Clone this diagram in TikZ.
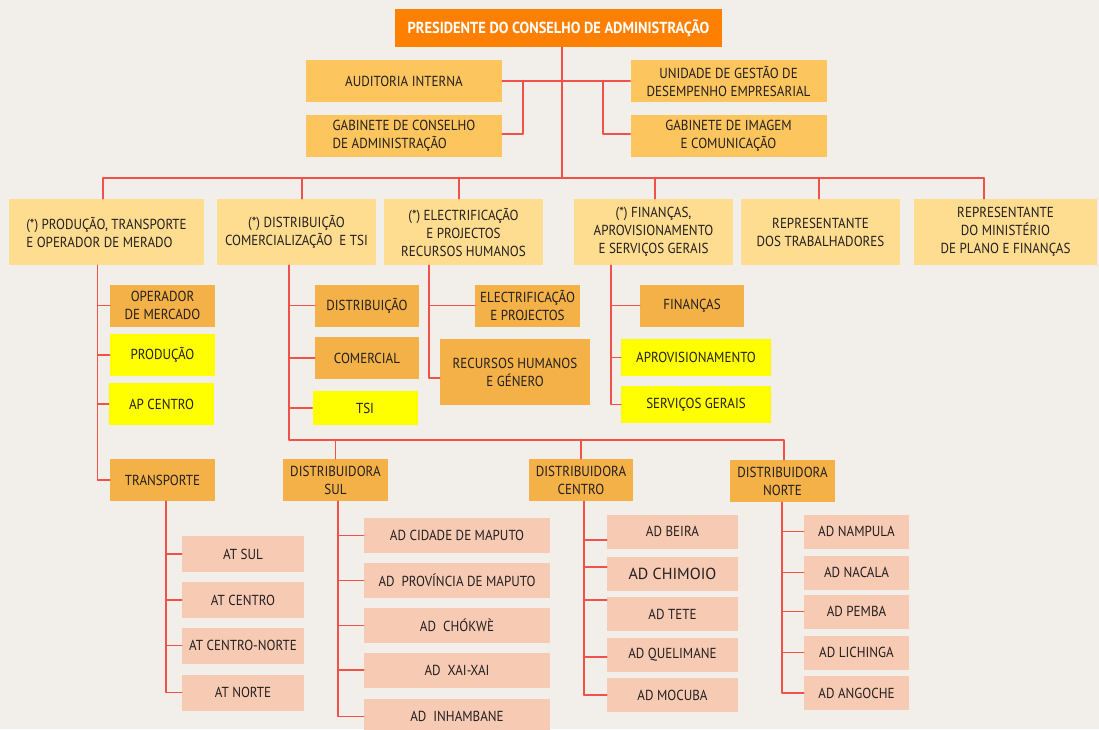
\documentclass[tikz,border=0pt]{standalone}
\usepackage{fontspec}
\setmainfont{PT Sans}[FakeStretch=0.9]
\newfontfamily\wideface{PT Sans}
\usetikzlibrary{calc}
\definecolor{paper}{HTML}{F2EFEA}
\definecolor{topc}{HTML}{FF7F00}
\definecolor{gold}{HTML}{FCC55E}
\definecolor{pale}{HTML}{FEDC90}
\definecolor{amber}{HTML}{F3B147}
\definecolor{lemon}{HTML}{FFFF00}
\definecolor{peach}{HTML}{F7CAB4}
\definecolor{wirec}{HTML}{F0524A}
\definecolor{ink}{HTML}{231F20}
\begin{document}
\begin{tikzpicture}[x=1pt,y=-1pt,line join=round,line cap=round,
 font=\fontsize{14.5}{18}\selectfont,
 every node/.style={text=ink,inner sep=2pt,align=center},
 chief/.style={fill=topc,text=white,font=\bfseries\fontsize{16}{18}\selectfont,minimum width=327,minimum height=38},
 staff/.style={fill=gold,minimum width=196,minimum height=42},
 dept/.style={fill=pale,minimum width=#1,minimum height=66},dept/.default=159,
 unit/.style={fill=amber,minimum width=#1,minimum height=42},unit/.default=105,
 hilite/.style={fill=lemon,minimum width=#1,minimum height=42},hilite/.default=105,
 agency/.style={fill=peach,minimum width=#1,minimum height=34},
 wire/.style={draw=wirec,line width=1.4pt}]
 \clip (0,0) rectangle (1099,729);
 \fill[paper] (0,0) rectangle (1099,729);
 % topo
 \node[chief] (pres) at (558.5,28) {PRESIDENTE DO CONSELHO DE ADMINISTRAÇÃO};
 \node[staff] (aud) at (404,81) {AUDITORIA INTERNA};
 \node[staff,align=left] (gab) at (404,136) {GABINETE DE CONSELHO\\DE ADMINISTRAÇÃO};
 \node[staff] (ugd) at (728.5,81) {UNIDADE DE GESTÃO DE\\DESEMPENHO EMPRESARIAL};
 \node[staff] (gim) at (728.5,136) {GABINETE DE IMAGEM\\E COMUNICAÇÃO};
 % pelouros
 \node[dept=195,align=left] (p1) at (106.5,232) {(*) PRODUÇÃO, TRANSPORTE\\E OPERADOR DE MERADO};
 \node[dept] (p2) at (296.5,232) {(*) DISTRIBUIÇÃO\\COMERCIALIZAÇÃO\ \ E TSI};
 \node[dept] (p3) at (463.5,232) {(*) ELECTRIFICAÇÃO\\E PROJECTOS\\RECURSOS HUMANOS};
 \node[dept] (p4) at (653.5,232) {(*) FINANÇAS,\\APROVISIONAMENTO\\E SERVIÇOS GERAIS};
 \node[dept] (p5) at (820.5,232) {REPRESENTANTE\\DOS TRABALHADORES};
 \node[dept=183] (p6) at (1005.5,232) {REPRESENTANTE\\DO MINISTÉRIO\\DE PLANO E FINANÇAS};
 % direccoes
 \node[unit] (om) at (162.5,305.5) {OPERADOR\\DE MERCADO};
 \node[hilite] (prod) at (162.5,355) {PRODUÇÃO};
 \node[hilite] (apc) at (161.5,404) {AP CENTRO};
 \node[unit] (trans) at (162.5,480) {TRANSPORTE};
 \node[unit=104] (dist) at (367,305.5) {DISTRIBUIÇÃO};
 \node[unit=104] (com) at (367,358) {COMERCIAL};
 \node[hilite,minimum height=34] (tsi) at (365,408) {TSI};
 \node[unit] (elp) at (527.5,305.5) {ELECTRIFICAÇÃO\\E PROJECTOS};
 \node[unit=150,minimum height=66] (rhg) at (515,372) {RECURSOS HUMANOS\\E GÉNERO};
 \node[unit=104] (fin) at (692,305.5) {FINANÇAS};
 \node[hilite=150,minimum height=37] (apr) at (696,357.5) {APROVISIONAMENTO};
 \node[hilite=150,minimum height=37] (sg) at (696,404.5) {SERVIÇOS GERAIS};
 \node[unit] (dsul) at (335.5,480) {DISTRIBUIDORA\\SUL};
 \node[unit=104] (dcen) at (581,480) {DISTRIBUIDORA\\CENTRO};
 \node[unit] (dnor) at (782.5,481) {DISTRIBUIDORA\\NORTE};
 % delegacoes
 \foreach \i/\y/\t in {1/554/AT SUL,2/600/AT CENTRO,3/645.5/AT CENTRO-NORTE,4/692.5/AT NORTE}
  \node[agency=122,minimum height=36] (at\i) at (243,\y) {\t};
 \foreach \i/\y/\t in {1/535.5/AD CIDADE DE MAPUTO,2/580.5/AD\ \ PROVÍNCIA DE MAPUTO,3/625.5/AD\ \ CHÓKWÈ,4/670/AD\ \ XAI-XAI,5/716.5/AD\ \ INHAMBANE}
  \node[agency=186,minimum height=35] (sul\i) at (457,\y) {\t};
 \foreach \i/\y/\t in {1/531.5/AD BEIRA,2/573.5/{\wideface\fontsize{16}{18}\selectfont AD CHIMOIO},3/614/AD TETE,4/654.5/AD QUELIMANE,5/695/AD MOCUBA}
  \node[agency=131] (cen\i) at (672.5,\y) {\t};
 \foreach \i/\y/\t in {1/531.5/AD NAMPULA,2/572.5/AD NACALA,3/611.5/AD PEMBA,4/652.5/AD LICHINGA,5/693/AD ANGOCHE}
  \node[agency=105] (nor\i) at (856.5,\y) {\t};
 % ligacoes
 \coordinate (hub) at (562,178);
 \draw[wire] (pres.south -| hub) -- (hub);
 \draw[wire] (aud.east) -- (aud.east -| hub) (hub |- ugd.west) -- (ugd.west);
 \coordinate (kl) at (523,134); \coordinate (kr) at (603,134);
 \draw[wire] (aud.east -| kl) -- (kl) -- (gab.east |- kl);
 \draw[wire] (ugd.west -| kr) -- (kr) -- (gim.west |- kr);
 \foreach \n/\x in {p1/103,p2/302,p3/459,p4/655,p5/819,p6/984}
  {\coordinate (d\n) at (\x,178); \draw[wire] (d\n) -- (d\n |- \n.north);}
 \draw[wire] (dp1) -- (dp6);
 \coordinate (c1) at ($(p1.south)+(-9,0)$);
 \draw[wire] (c1) -- (c1 |- trans.west);
 \foreach \m in {om,prod,apc,trans} \draw[wire] (c1 |- \m.west) -- (\m.west);
 \coordinate (c2) at ($(p2.south)+(-7.5,0)$);
 \coordinate (dr) at (784,440);
 \draw[wire] (c2) |- (dr) -- (dr |- dnor.north);
 \draw[wire] (dsul.north) -- (dsul.north |- dr) (dcen.north) -- (dcen.north |- dr);
 \foreach \m in {dist,com,tsi} \draw[wire] (c2 |- \m.west) -- (\m.west);
 \coordinate (c3) at ($(p3.south)+(-34.5,0)$);
 \draw[wire] (c3) |- ([yshift=-6pt]rhg.west);
 \draw[wire] (c3 |- elp.west) -- (elp.west);
 \coordinate (c4) at ($(p4.south)+(-42.5,0)$);
 \draw[wire] (c4) |- (sg.west);
 \foreach \m in {fin,apr} \draw[wire] (c4 |- \m.west) -- (\m.west);
 \coordinate (c5) at ($(trans.south)+(3.5,0)$);
 \draw[wire] (c5) |- (at4.west);
 \foreach \i in {1,2,3} \draw[wire] (c5 |- at\i.west) -- (at\i.west);
 \coordinate (c6) at ($(dsul.south)+(2.5,0)$);
 \draw[wire] (c6) |- (sul5.west);
 \foreach \i in {1,...,4} \draw[wire] (c6 |- sul\i.west) -- (sul\i.west);
 \coordinate (c7) at ($(dcen.south)+(3,0)$);
 \foreach \i/\s in {1/-8.5,2/6.5,3/14,4/-2.5,5/0}
  {\path ([yshift=\s pt]cen\i.west) coordinate (q\i); \draw[wire] (c7 |- q\i) -- (q\i);}
 \draw[wire] (c7) -- (c7 |- q5);
 \coordinate (c8) at ($(dnor.south)+(-0.5,0)$);
 \draw[wire] (c8) |- (nor5.west);
 \foreach \i in {1,...,4} \draw[wire] (c8 |- nor\i.west) -- (nor\i.west);
\end{tikzpicture}
\end{document}
